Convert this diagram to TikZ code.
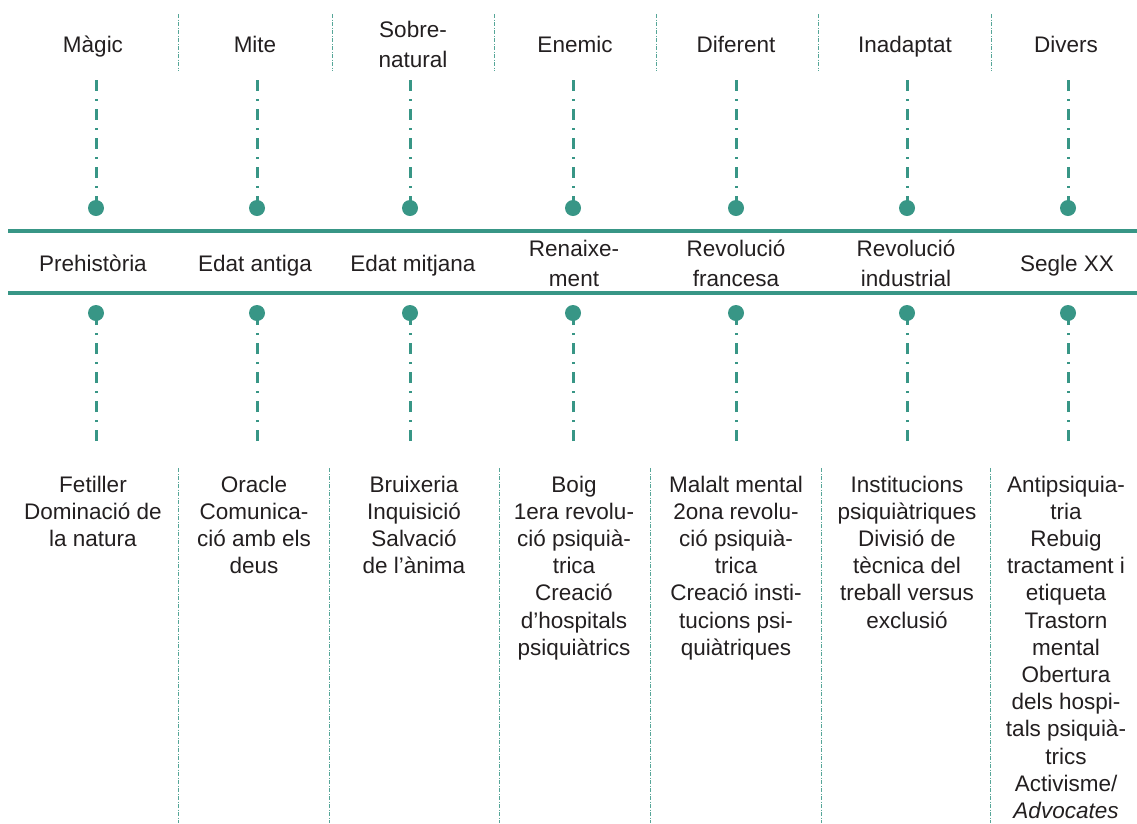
\documentclass[tikz,border=0pt]{standalone}
\usepackage{fontspec}
\setmainfont{Liberation Sans}
\definecolor{tealA}{RGB}{56,150,134}
\definecolor{inkA}{RGB}{35,31,32}
\begin{document}
\begin{tikzpicture}[x=1pt,y=-1pt,
  lblhead/.style={font=\fontsize{22.5}{29.5}\selectfont, text=inkA, align=center, inner sep=0pt, anchor=base},
  lblbody/.style={font=\fontsize{22.5}{27.2}\selectfont, text=inkA, align=center, inner sep=0pt, anchor=base},
  dotA/.style={circle, fill=tealA, minimum size=16pt, inner sep=0pt},
  connA/.style={tealA, line width=3pt, dash pattern=on 11pt off 8pt on 2pt off 8pt},
  sepA/.style={tealA!85, line width=0.8pt, dash pattern=on 4pt off 1.5pt on 1pt off 1.5pt},
  ruleA/.style={tealA, line width=4pt}]
\useasboundingbox (0,0) rectangle (1137,823);

% horizontal rules
\coordinate (r1a) at (8,231); \coordinate (r1b) at (1137,231);
\coordinate (r2a) at (8,292.5); \coordinate (r2b) at (1137,292.5);
\draw[ruleA] (r1a) -- (r1b);
\draw[ruleA] (r2a) -- (r2b);

% top separators
\foreach \x [count=\k] in {178,332,494,656,818,991}{
  \coordinate (ts\k a) at (\x,14); \coordinate (ts\k b) at (\x,71);
  \draw[sepA] (ts\k a) -- (ts\k b);
}
% bottom separators
\foreach \x [count=\k] in {178,329,499,650,821,990}{
  \coordinate (bs\k a) at (\x,468); \coordinate (bs\k b) at (\x,823);
  \draw[sepA] (bs\k a) -- (bs\k b);
}

% dots and dash-dot connectors
\foreach \x [count=\k] in {96,257,410,573,736,907,1068}{
  \node[dotA] (td\k) at (\x,208) {};
  \node[dotA] (bd\k) at (\x,313) {};
  \coordinate (tc\k) at (\x,80);
  \coordinate (bc\k) at (\x,441);
  \draw[connA] (tc\k) -- (td\k.center);
  \draw[connA] (bc\k) -- (bd\k.center);
}

% top labels (anchor = baseline of last line)
\node[lblhead] (top1) at (93,52) {Màgic};
\node[lblhead] (top2) at (255,52) {Mite};
\node[lblhead] (top3) at (413,67) {Sobre-\\natural};
\node[lblhead] (top4) at (575,52) {Enemic};
\node[lblhead] (top5) at (736,52) {Diferent};
\node[lblhead] (top6) at (905,52) {Inadaptat};
\node[lblhead] (top7) at (1066,52) {Divers};

% middle labels
\node[lblhead] (mid1) at (93,271) {Prehistòria};
\node[lblhead] (mid2) at (255,271) {Edat antiga};
\node[lblhead] (mid3) at (413,271) {Edat mitjana};
\node[lblhead] (mid4) at (574,286) {Renaixe-\\ment};
\node[lblhead] (mid5) at (736,286) {Revolució\\francesa};
\node[lblhead] (mid6) at (906,286) {Revolució\\industrial};
\node[lblhead] (mid7) at (1067,271) {Segle XX};

% bottom texts
\node[lblbody] (bot1) at (93,546.4) {Fetiller\\Dominació de\\la natura};
\node[lblbody] (bot2) at (254,573.6) {Oracle\\Comunica-\\ció amb els\\deus};
\node[lblbody] (bot3) at (414,573.6) {Bruixeria\\Inquisició\\Salvació\\de l’ànima};
\node[lblbody] (bot4) at (574,655.2) {Boig\\1era revolu-\\ció psiquià-\\trica\\Creació\\d’hospitals\\psiquiàtrics};
\node[lblbody] (bot5) at (736,655.2) {Malalt mental\\2ona revolu-\\ció psiquià-\\trica\\Creació insti-\\tucions psi-\\quiàtriques};
\node[lblbody] (bot6) at (907,628) {Institucions\\psiquiàtriques\\Divisió de\\tècnica del\\treball versus\\exclusió};
\node[lblbody] (bot7) at (1066,818.4) {Antipsiquia-\\tria\\Rebuig\\tractament i\\etiqueta\\Trastorn\\mental\\Obertura\\dels hospi-\\tals psiquià-\\trics\\Activisme/\\\textit{Advocates}};
\end{tikzpicture}
\end{document}
